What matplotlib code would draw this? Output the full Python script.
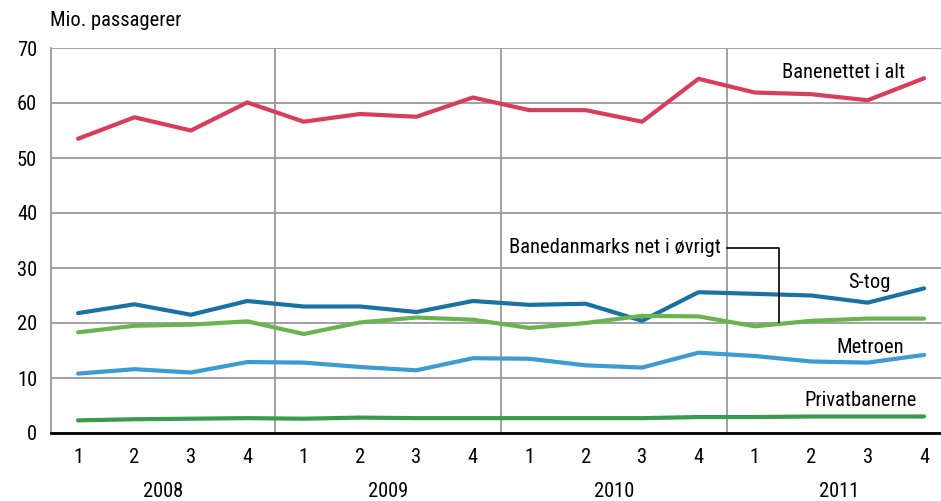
import numpy as np
import matplotlib.pyplot as plt

plt.rcParams['font.family'] = ['Liberation Sans Narrow', 'DejaVu Sans Condensed',
                               'Roboto Condensed', 'Roboto', 'DejaVu Sans']

quarters = ['1', '2', '3', '4'] * 4
years = ['2008', '2009', '2010', '2011']

banenettet = [53.5, 57.4, 55.0, 60.1, 56.6, 58.0, 57.5, 61.0,
              58.7, 58.7, 56.6, 64.4, 61.9, 61.6, 60.5, 64.5]
s_tog = [21.8, 23.4, 21.5, 24.0, 23.0, 23.0, 22.0, 24.0,
         23.3, 23.5, 20.4, 25.6, 25.3, 25.0, 23.7, 26.3]
banedanmark_ovrigt = [18.3, 19.5, 19.7, 20.3, 18.0, 20.1, 21.0, 20.6,
                      19.1, 20.0, 21.3, 21.2, 19.4, 20.4, 20.8, 20.8]
metroen = [10.8, 11.6, 11.0, 12.9, 12.8, 12.0, 11.4, 13.6,
           13.5, 12.3, 11.9, 14.6, 14.0, 13.0, 12.8, 14.2]
privatbaner = [2.3, 2.5, 2.6, 2.7, 2.6, 2.8, 2.7, 2.7,
               2.7, 2.7, 2.7, 2.9, 2.9, 3.0, 3.0, 3.0]

x = np.arange(len(quarters))

fig = plt.figure(figsize=(9.41, 5.01), dpi=100)
ax = fig.add_axes([51 / 941, 68 / 501, 890 / 941, 385 / 501])

ax.set_ylim(0, 70)
ax.set_xlim(-0.48, 15.3)
ax.set_yticks(range(0, 71, 10))
ax.yaxis.grid(True, color='#9a9a9a', lw=1.3)
for b in [3.5, 7.5, 11.5]:
    ax.axvline(b, color='#9a9a9a', lw=1.3)
ax.set_axisbelow(True)

lw = 3
ax.plot(x, banenettet, color='#d83d5c', lw=lw, solid_capstyle='round')
ax.plot(x, s_tog, color='#1a72a4', lw=lw, solid_capstyle='round')
ax.plot(x, banedanmark_ovrigt, color='#6ab450', lw=lw, solid_capstyle='round')
ax.plot(x, metroen, color='#3c9bd2', lw=lw, solid_capstyle='round')
ax.plot(x, privatbaner, color='#389a4a', lw=lw, solid_capstyle='round')

fs = 14.8
ax.text(14.67, 65.6, 'Banenettet i alt', fontsize=fs, ha='right', va='center')
ax.text(14.4, 27.3, 'S-tog', fontsize=fs, ha='right', va='center')
ax.text(14.65, 15.6, 'Metroen', fontsize=fs, ha='right', va='center')
ax.text(14.87, 6.0, 'Privatbanerne', fontsize=fs, ha='right', va='center')
ax.text(11.4, 33.8, 'Banedanmarks net i øvrigt', fontsize=fs, ha='right', va='center')
ax.plot([11.5, 12.42, 12.42], [33.7, 33.7, 20.2], color='black', lw=1.2)

for s in ['top', 'right']:
    ax.spines[s].set_visible(False)
ax.spines['left'].set_color('#9a9a9a')
ax.spines['left'].set_linewidth(1.3)
ax.spines['bottom'].set_color('black')
ax.spines['bottom'].set_linewidth(2)

ax.set_xticks(x)
ax.set_xticklabels(quarters, fontsize=fs)
ax.tick_params(axis='both', length=0, labelsize=fs)
ax.tick_params(axis='x', pad=11)
ax.tick_params(axis='y', pad=10)
for i, yr in enumerate(years):
    ax.text(4 * i + 1.5, -10.7, yr, fontsize=fs, ha='center', va='center')

fig.text(50 / 941, 481 / 501, 'Mio. passagerer', fontsize=fs, ha='left', va='center')

fig.savefig('out.png', dpi=100)
